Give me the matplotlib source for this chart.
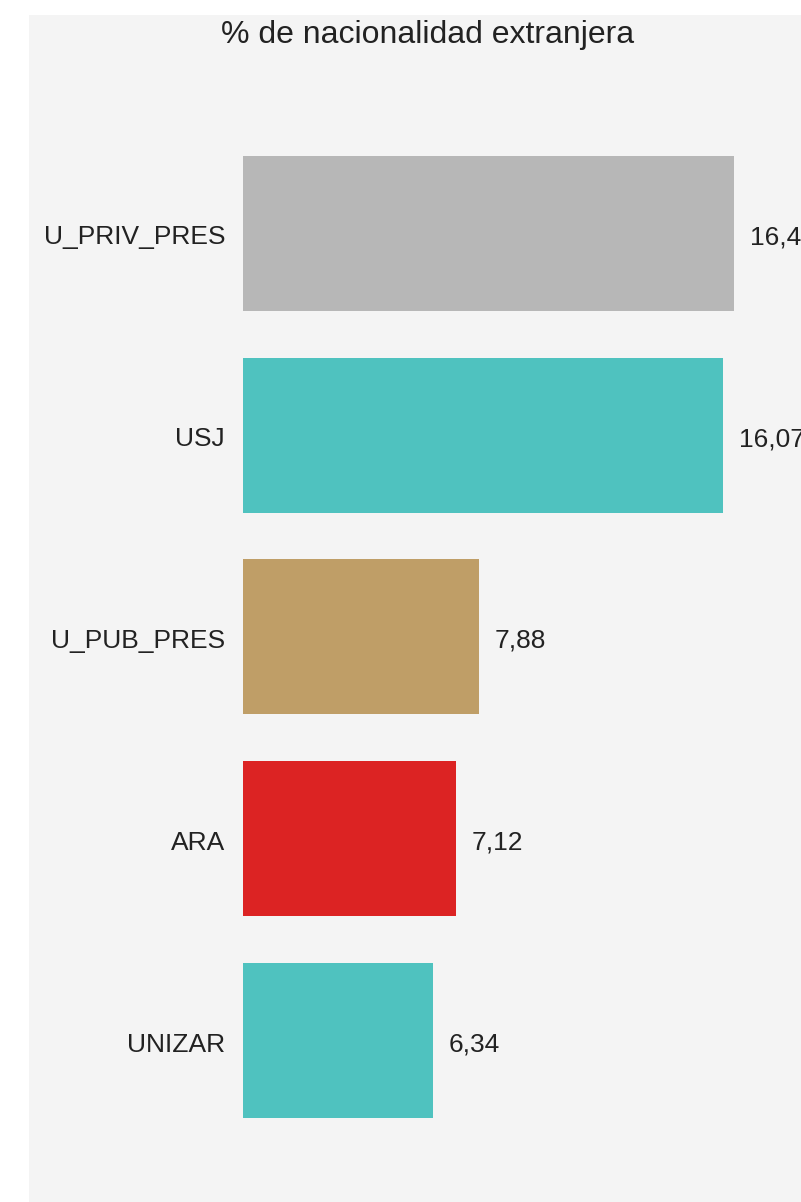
import matplotlib.pyplot as plt
import matplotlib.patches as mpatches

# data
categories = ['U_PRIV_PRES', 'USJ', 'U_PUB_PRES', 'ARA', 'UNIZAR']
values = [16.41, 16.07, 7.88, 7.12, 6.34]
barColors = ['#b7b7b7', '#4fc2bf', '#bf9e67', '#dc2323', '#4fc2bf']
title = '% de nacionalidad extranjera'

# layout (pixels)
figW, figH = 801, 1202
dpi = 100
panelColor = '#f4f4f4'
textColor = '#222222'
fontFamily = ['Liberation Sans', 'DejaVu Sans']
labelSize = 19

plt.rcParams['font.family'] = fontFamily

fig = plt.figure(figsize = (figW / dpi, figH / dpi), dpi = dpi)
fig.patch.set_facecolor('white')
panel = mpatches.Rectangle((29 / figW, 0), 1 - 29 / figW, 1 - 15 / figH,
                           transform = fig.transFigure, fc = panelColor, ec = 'none', zorder = -1)
fig.add_artist(panel)

axLeft = 243
ax = fig.add_axes([axLeft / figW, 0, 1 - axLeft / figW, 1 - 15 / figH], zorder = 1)
ax.set_facecolor('none')
pxPerUnit = 29.9
ax.set_xlim(0, (figW - axLeft) / pxPerUnit)
firstCenter = 233.5
step = 201.75
ax.set_ylim((figH - firstCenter) / step, (15 - firstCenter) / step)

positions = list(range(len(categories)))
ax.barh(positions, values, height = 155 / step, color = barColors, zorder = 2)

# text sits a few pixels below the bar centre in the original
for pos, val in zip(positions, values):
    label = f'{val:.2f}'.replace('.', ',')
    ax.annotate(label, (val, pos), xytext = (16, -4), textcoords = 'offset pixels',
                va = 'center', ha = 'left', fontsize = labelSize, color = textColor)
    ax.annotate(categories[pos], (0, pos), xytext = (-18, -4), textcoords = 'offset pixels',
                va = 'center', ha = 'right', fontsize = labelSize, color = textColor,
                annotation_clip = False)

ax.axis('off')
fig.text(428 / figW, 1 - 35 / figH, title, ha = 'center', va = 'center',
         fontsize = 23, color = textColor)

fig.savefig('out.png', dpi = dpi)
